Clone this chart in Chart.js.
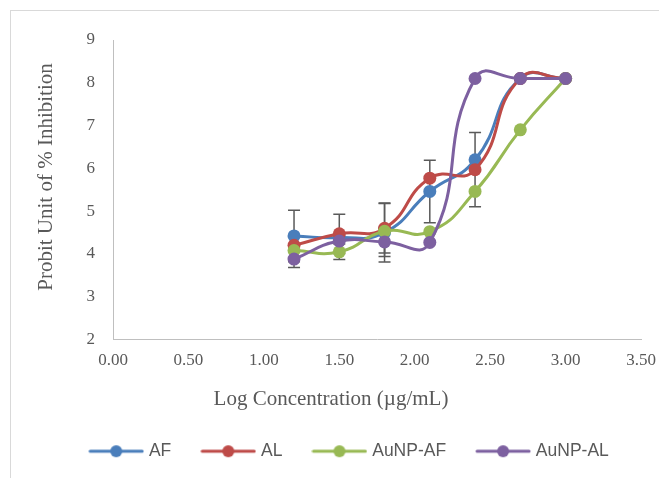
<!DOCTYPE html>
<html>
<head>
<meta charset="utf-8">
<script src="https://cdn.jsdelivr.net/npm/chart.js@4/dist/chart.umd.min.js"></script>
<style>
  html, body { margin: 0; padding: 0; background: #fff; }
  #wrap { width: 659px; height: 478px; }
</style>
</head>
<body>
<div id="wrap"><canvas id="probitChart" width="659" height="478"></canvas></div>
<script>
// log concentration values (x)
const logConc = [1.2, 1.5, 1.8, 2.1, 2.4, 2.7, 3.0];

// probit values per series
const afValues = [4.42, 4.38, 4.5, 5.46, 6.2, 8.1, 8.1];
const alValues = [4.2, 4.47, 4.6, 5.77, 5.97, 8.1, 8.1];
const aunpAfValues = [4.08, 4.05, 4.53, 4.52, 5.46, 6.9, 8.1];
const aunpAlValues = [3.88, 4.3, 4.28, 4.27, 8.1, 8.1, 8.1];

// error bar sizes (+/-), 0 = no bar
const afErr = [0.6, 0, 0.69, 0.73, 0, 0, 0];
const alErr = [0, 0.46, 0.58, 0, 0.87, 0, 0];
const aunpAfErr = [0, 0.18, 0, 0, 0, 0, 0];
const aunpAlErr = [0.2, 0, 0.34, 0, 0, 0, 0];

const seriesNames = ['AF', 'AL', 'AuNP-AF', 'AuNP-AL'];
const seriesColors = ['#4a7ebb', '#be4b48', '#98b954', '#7d60a0'];

const xTicks = [0, 0.5, 1, 1.5, 2, 2.5, 3, 3.5];
const xTitle = 'Log Concentration (µg/mL)';
const yTitle = 'Probit Unit of % Inhibition';

function toPoints(vals) {
    return vals.map((v, i) => ({ x: logConc[i], y: v }));
}

// little line + dot used as legend symbol
function legendIcon(color) {
    const c = document.createElement('canvas');
    c.width = 56; c.height = 14;
    const g = c.getContext('2d');
    g.strokeStyle = color;
    g.lineWidth = 3;
    g.lineCap = 'round';
    g.beginPath(); g.moveTo(2, 7); g.lineTo(54, 7); g.stroke();
    g.fillStyle = color;
    g.beginPath(); g.arc(28, 7, 6, 0, Math.PI * 2); g.fill();
    return c;
}
const icons = seriesColors.map(legendIcon);

const frame = {
    id: 'frame',
    beforeDraw(chart) {
        const ctx = chart.ctx;
        ctx.save();
        ctx.strokeStyle = '#d9d9d9';
        ctx.lineWidth = 1;
        ctx.strokeRect(10.5, 10.5, 800, 800);
        ctx.restore();
    }
};

const errorBars = {
    id: 'errorBars',
    beforeDatasetsDraw(chart) {
        const ctx = chart.ctx;
        const yScale = chart.scales.y;
        ctx.save();
        ctx.strokeStyle = '#5a5a5a';
        ctx.lineWidth = 1.5;
        chart.data.datasets.forEach((ds, di) => {
            const meta = chart.getDatasetMeta(di);
            ds.errors.forEach((e, i) => {
                if (!e) return;
                const px = meta.data[i].x;
                const top = yScale.getPixelForValue(ds.data[i].y + e);
                const bot = yScale.getPixelForValue(ds.data[i].y - e);
                ctx.beginPath();
                ctx.moveTo(px, top); ctx.lineTo(px, bot);
                ctx.moveTo(px - 6, top); ctx.lineTo(px + 6, top);
                ctx.moveTo(px - 6, bot); ctx.lineTo(px + 6, bot);
                ctx.stroke();
            });
        });
        ctx.restore();
    }
};

// axis titles sit off-centre in the original, so place them by hand
const axisTitles = {
    id: 'axisTitles',
    afterDraw(chart) {
        const ctx = chart.ctx;
        ctx.save();
        ctx.fillStyle = '#595959';
        ctx.font = '21px "Liberation Serif"';
        ctx.textAlign = 'center';
        ctx.textBaseline = 'middle';
        ctx.fillText(xTitle, 331, 399);
        ctx.translate(46, 177);
        ctx.rotate(-Math.PI / 2);
        ctx.fillText(yTitle, 0, 0);
        ctx.restore();
    }
};

// nudge the legend so it sits centred under the full chart frame
const legendShift = {
    id: 'legendShift',
    afterLayout(chart) {
        const lg = chart.legend;
        if (!lg) return;
        lg.left += 21; lg.right += 21;
        lg.top -= 4; lg.bottom -= 4;
    }
};

function makeSet(i, vals, errs, order) {
    return {
        label: seriesNames[i],
        data: toPoints(vals),
        errors: errs,
        borderColor: seriesColors[i],
        backgroundColor: seriesColors[i],
        pointBackgroundColor: seriesColors[i],
        pointBorderColor: seriesColors[i],
        pointBorderWidth: 0,
        pointRadius: 6.5,
        pointHoverRadius: 6.5,
        borderWidth: 3,
        tension: 0.5,
        fill: false,
        order: order
    };
}

const ctx = document.getElementById('probitChart').getContext('2d');
const probitChart = new Chart(ctx, {
    type: 'line',
    data: {
        datasets: [
            makeSet(0, afValues, afErr, 4),
            makeSet(1, alValues, alErr, 3),
            makeSet(2, aunpAfValues, aunpAfErr, 2),
            makeSet(3, aunpAlValues, aunpAlErr, 1)
        ]
    },
    plugins: [frame, errorBars, axisTitles, legendShift],
    options: {
        responsive: false,
        animation: false,
        layout: {
            padding: { left: 10, right: 10, top: 40, bottom: 4 }
        },
        scales: {
            x: {
                type: 'linear',
                min: 0,
                max: 3.5,
                afterBuildTicks: (scale) => { scale.ticks = xTicks.map(v => ({ value: v })); },
                afterFit: (scale) => { scale.height = 74; scale.paddingRight = 18; },
                grid: { display: false, drawTicks: false },
                border: { display: true, color: '#bfbfbf', width: 1 },
                ticks: {
                    padding: 11,
                    color: '#595959',
                    font: { family: 'Liberation Serif', size: 17 },
                    callback: (v) => Number(v).toFixed(2)
                }
            },
            y: {
                min: 2,
                max: 9,
                afterFit: (scale) => { scale.width = 103; },
                grid: { display: false, drawTicks: false },
                border: { display: true, color: '#bfbfbf', width: 1 },
                ticks: {
                    stepSize: 1,
                    padding: 18,
                    color: '#595959',
                    font: { family: 'Liberation Serif', size: 17 }
                }
            }
        },
        plugins: {
            legend: {
                position: 'bottom',
                labels: {
                    usePointStyle: true,
                    pointStyleWidth: 48,
                    padding: 33,
                    color: '#595959',
                    font: { family: 'Liberation Sans', size: 17.5 },
                    sort: (a, b) => a.datasetIndex - b.datasetIndex,
                    generateLabels: (chart) => {
                        const items = Chart.defaults.plugins.legend.labels.generateLabels(chart);
                        items.forEach(it => { it.pointStyle = icons[it.datasetIndex]; });
                        return items;
                    }
                }
            },
            tooltip: { enabled: false }
        }
    }
});
</script>
</body>
</html>
